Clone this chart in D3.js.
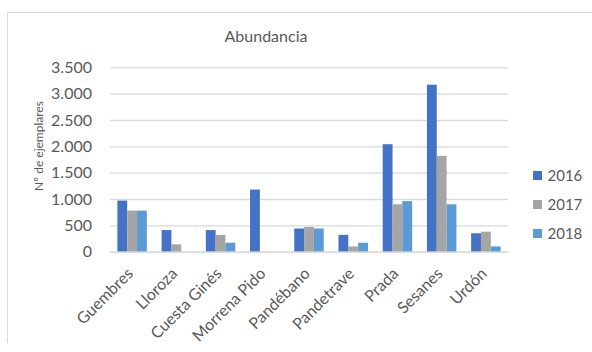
<!DOCTYPE html>
<html>
<head>
<meta charset="utf-8">
<script src="https://cdn.jsdelivr.net/npm/d3@7"></script>
<style>
  html, body { margin: 0; padding: 0; background: #fff; }
  svg { display: block; }
  text { font-family: Lato, "Noto Sans", sans-serif; fill: #595959; }
</style>
</head>
<body>
<svg id="chart" width="592" height="352"></svg>
<script>
// Sites sampled and yearly counts
const sites = ["Guembres", "Lloroza", "Cuesta Ginés", "Morrena Pido", "Pandébano", "Pandetrave", "Prada", "Sesanes", "Urdón"];
const years = ["2016", "2017", "2018"];
const values2016 = [970, 410, 410, 1180, 440, 320, 2040, 3170, 350];
const values2017 = [780, 140, 320, null, 470, 100, 900, 1820, 380];
const values2018 = [780, null, 170, null, 440, 170, 960, 900, 100];
const yTicks = [0, 500, 1000, 1500, 2000, 2500, 3000, 3500];
const colors = ["#4472C4", "#A5A5A5", "#5B9BD5"];

const series = [values2016, values2017, values2018];

const svg = d3.select("#chart");
const W = 592, H = 352;
const plot = { left: 110, right: 508, top: 67.3, bottom: 251.7 };

// Chart area frame
svg.append("path")
  .attr("d", `M7.5,343 V12.5 H${W}`)
  .attr("fill", "none")
  .attr("stroke", "#D9D9D9")
  .attr("stroke-width", 1);

const x = d3.scaleBand().domain(sites).range([plot.left, plot.right]).paddingInner(0).paddingOuter(0);
const groupFrac = 3 / 4.5; // gap width 150%
const xInner = d3.scaleBand().domain(years)
  .range([0, x.bandwidth() * groupFrac]);
const y = d3.scaleLinear().domain([0, 3500]).range([plot.bottom, plot.top]);

// Title
svg.append("text")
  .attr("x", 266).attr("y", 42)
  .attr("text-anchor", "middle")
  .style("font-size", "16px")
  .text("Abundancia");

// Gridlines
const yAxis = d3.axisLeft(y).tickValues(yTicks)
  .tickSize(-(plot.right - plot.left))
  .tickPadding(18)
  .tickFormat(d => d3.format(",")(d).replace(/,/g, "."));
const gy = svg.append("g").attr("transform", `translate(${plot.left},0)`).call(yAxis);
gy.select(".domain").remove();
gy.selectAll(".tick line").attr("stroke", "#D9D9D9").attr("stroke-width", 1.3);
gy.selectAll(".tick text").style("font-size", "16px").attr("fill", "#595959")
  .style("font-family", "Lato, sans-serif");

// Y axis title
svg.append("text")
  .attr("transform", `translate(43,146) rotate(-90)`)
  .attr("text-anchor", "middle")
  .style("font-size", "12px")
  .text("Nº de ejemplares");

// Bars
const groups = svg.append("g").selectAll("g")
  .data(sites)
  .join("g")
  .attr("transform", d => `translate(${x(d) + x.bandwidth() * (1 - groupFrac) / 2},0)`);

groups.selectAll("rect")
  .data((d, i) => years.map((yr, k) => ({ yr, k, v: series[k][i] })).filter(e => e.v != null))
  .join("rect")
  .attr("x", d => xInner(d.yr))
  .attr("width", xInner.bandwidth())
  .attr("y", d => y(d.v))
  .attr("height", d => y(0) - y(d.v))
  .attr("fill", d => colors[d.k]);

// Category axis
const xAxis = d3.axisBottom(x).tickSize(0).tickPadding(0);
const gx = svg.append("g").attr("transform", `translate(0,${plot.bottom})`).call(xAxis);
gx.select(".domain").attr("stroke", "#D9D9D9").attr("stroke-width", 1.3);
gx.selectAll(".tick text")
  .style("font-size", "16px")
  .style("font-family", "Lato, sans-serif")
  .attr("fill", "#595959")
  .attr("text-anchor", "end")
  .attr("dy", 0)
  .attr("transform", "translate(2,23) rotate(-45)");

// Legend
const legend = svg.append("g").selectAll("g")
  .data(years)
  .join("g")
  .attr("transform", (d, i) => `translate(533,${171 + i * 29})`);
legend.append("rect").attr("width", 9).attr("height", 9).attr("fill", (d, i) => colors[i]);
legend.append("text").attr("x", 14.5).attr("y", 9.5)
  .style("font-size", "15px")
  .text(d => d);
</script>
</body>
</html>
